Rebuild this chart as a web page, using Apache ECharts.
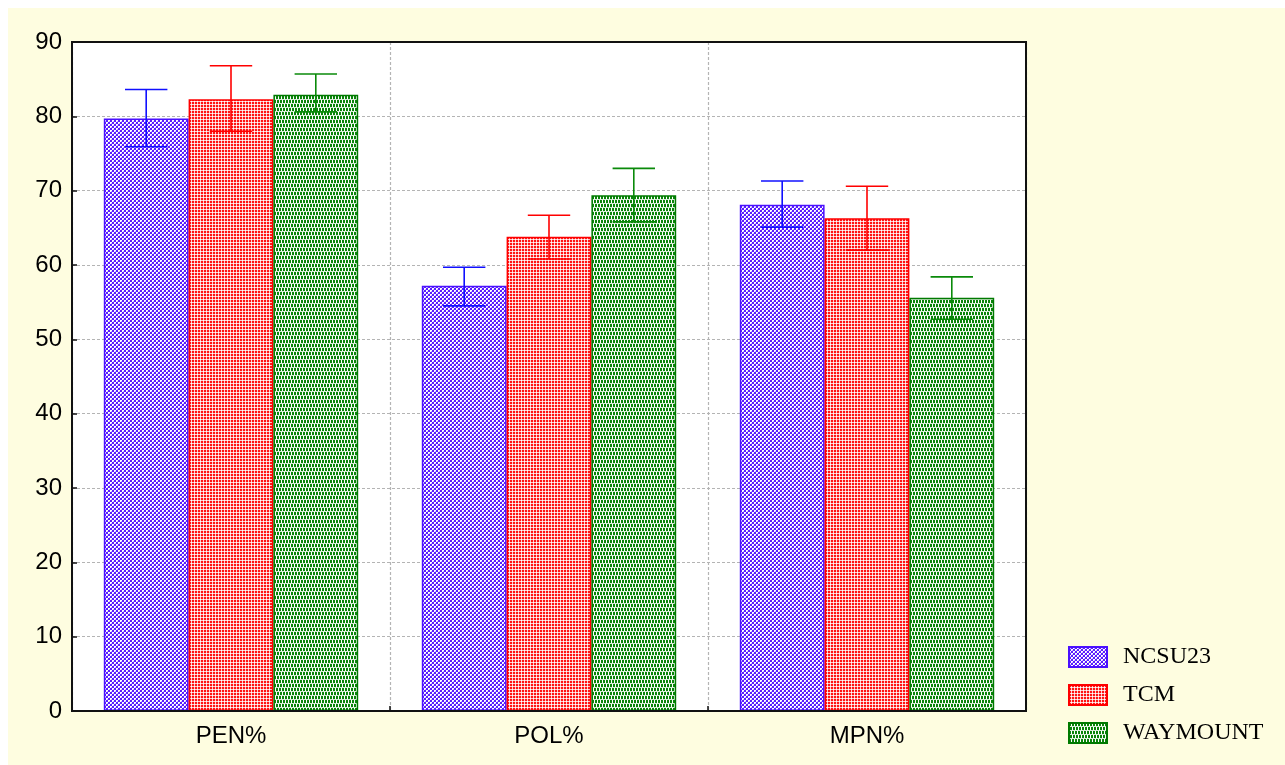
<!DOCTYPE html>
<html>
<head>
<meta charset="utf-8">
<script src="https://cdn.jsdelivr.net/npm/echarts@6/dist/echarts.min.js"></script>
<style>
  html, body { margin: 0; padding: 0; background: #ffffff; }
  #chart { width: 1285px; height: 765px; }
</style>
</head>
<body>
<div id="chart"></div>
<script>
// Category labels and series values
const categories = ['PEN%', 'POL%', 'MPN%'];
const seriesNames = ['NCSU23', 'TCM', 'WAYMOUNT'];
const ncsu23 = [79.7, 57.2, 68.1];
const tcm = [82.3, 63.8, 66.3];
const waymount = [82.9, 69.4, 55.6];
// Error bar bounds [low, high] per category
const ncsu23Err = [[75.9, 83.6], [54.5, 59.7], [65.1, 71.3]];
const tcmErr = [[78.0, 86.8], [60.8, 66.7], [62.0, 70.6]];
const waymountErr = [[80.6, 85.7], [65.8, 73.0], [52.7, 58.4]];
const yTicks = [0, 10, 20, 30, 40, 50, 60, 70, 80, 90];

// Small repeating fill textures for the bars
function makeTile(w, h, base, cells) {
  const c = document.createElement('canvas');
  c.width = w; c.height = h;
  const ctx = c.getContext('2d');
  ctx.fillStyle = base;
  ctx.fillRect(0, 0, w, h);
  cells.forEach(([x, y, col]) => { ctx.fillStyle = col; ctx.fillRect(x, y, 1, 1); });
  return c;
}
const W = '#ffffff';
const LB = '#c2b4ff';
const blueTile = makeTile(4, 4, '#5a1cff', [
  [0, 0, W], [1, 0, W], [0, 1, W], [1, 1, LB],
  [2, 2, W], [3, 2, W], [2, 3, W], [3, 3, LB]
]);
const LR = '#ffcaca';
const redTile = makeTile(3, 3, '#ff1414', [
  [2, 0, LR], [2, 1, LR], [0, 2, LR], [1, 2, LR], [2, 2, W]
]);
// brick texture: 2x3 green bricks, staggered rows, pale mortar
const LG = '#d8ecd8';
const greenCells = [];
for (let y = 0; y < 8; y++) {
  for (let x = 0; x < 6; x++) {
    const rowBand = y < 4 ? 0 : 1;
    const yy = y % 4;
    if (yy === 3) { greenCells.push([x, y, LG]); continue; }
    const gapX = rowBand === 0 ? (x % 3 === 2) : (x % 3 === 0);
    if (gapX) greenCells.push([x, y, W]);
  }
}
const greenTile = makeTile(6, 8, '#0a840a', greenCells);

const fills = [blueTile, redTile, greenTile];
const edgeColors = ['#4a10ff', '#ff0000', '#007a00'];
const errColors = ['#1010ff', '#ff0000', '#0a8a0a'];
const values = [ncsu23, tcm, waymount];
const errs = [ncsu23Err, tcmErr, waymountErr];

const GAP = 0.2; // category gap fraction

const barSeries = seriesNames.map((name, k) => ({
  name: name,
  type: 'bar',
  data: values[k],
  barGap: '0%',
  barCategoryGap: (GAP * 100) + '%',
  itemStyle: {
    color: { image: fills[k], repeat: 'repeat' },
    borderColor: edgeColors[k],
    borderWidth: 1.5
  },
  emphasis: { disabled: true },
  z: 2
}));

const errSeries = seriesNames.map((name, k) => ({
  name: name + ' error',
  type: 'custom',
  data: errs[k].map((e, i) => [i, e[0], e[1]]),
  encode: { x: 0, y: [1, 2] },
  z: 5,
  silent: true,
  renderItem: function (params, api) {
    const i = api.value(0);
    const catW = api.size([1, 0])[0];
    const barW = catW * (1 - GAP) / 3;
    const cx = api.coord([i, 0])[0] + (k - 1) * barW;
    const lo = api.coord([i, api.value(1)])[1];
    const hi = api.coord([i, api.value(2)])[1];
    const half = barW * 0.25;
    const style = { stroke: errColors[k], lineWidth: 1.6 };
    return {
      type: 'group',
      children: [
        { type: 'line', shape: { x1: cx, y1: lo, x2: cx, y2: hi }, style: style },
        { type: 'line', shape: { x1: cx - half, y1: hi, x2: cx + half, y2: hi }, style: style },
        { type: 'line', shape: { x1: cx - half, y1: lo, x2: cx + half, y2: lo }, style: style }
      ]
    };
  }
}));

const GRID = { left: 72, right: 259, top: 42, bottom: 54 };

const chart = echarts.init(document.getElementById('chart'), null, { renderer: 'canvas' });
chart.setOption({
  backgroundColor: '#ffffff',
  animation: false,
  graphic: [{
    type: 'rect',
    shape: { x: 8, y: 8, width: 1277, height: 757 },
    style: { fill: '#fefde0' },
    z: -10,
    silent: true
  }, {
    // solid plot frame drawn above the dashed grid lines
    type: 'rect',
    shape: { x: GRID.left, y: GRID.top, width: 1285 - GRID.left - GRID.right, height: 765 - GRID.top - GRID.bottom },
    style: { fill: 'transparent', stroke: '#111111', lineWidth: 2 },
    z: 10,
    silent: true
  }],
  grid: {
    left: GRID.left, right: GRID.right, top: GRID.top, bottom: GRID.bottom,
    show: true,
    backgroundColor: '#ffffff',
    borderColor: '#111111',
    borderWidth: 2
  },
  legend: {
    data: seriesNames,
    orient: 'vertical',
    left: 1068, top: 645,
    padding: 0,
    itemWidth: 38, itemHeight: 20, itemGap: 14,
    icon: 'rect',
    selectedMode: false,
    textStyle: {
      fontFamily: '"Liberation Serif", "Times New Roman", serif',
      fontSize: 24,
      color: '#000000',
      padding: [0, 0, 0, 11]
    }
  },
  xAxis: {
    type: 'category',
    data: categories,
    axisLine: { show: true, lineStyle: { color: '#111111', width: 2 } },
    axisTick: { show: true, inside: true, length: 5, lineStyle: { color: '#111111', width: 1.5 } },
    axisLabel: {
      fontFamily: '"Liberation Sans", Arial, sans-serif',
      fontSize: 24, color: '#000000', margin: 13
    },
    splitLine: { show: true, lineStyle: { color: '#b4b4b4', type: [3, 2], width: 1.2 } }
  },
  yAxis: {
    type: 'value',
    min: yTicks[0],
    max: yTicks[yTicks.length - 1],
    interval: 10,
    axisLine: { show: true, lineStyle: { color: '#111111', width: 2 } },
    axisTick: { show: true, inside: true, length: 5, lineStyle: { color: '#111111', width: 1.5 } },
    axisLabel: {
      fontFamily: '"Liberation Sans", Arial, sans-serif',
      fontSize: 24, color: '#000000', margin: 10
    },
    splitLine: { show: true, lineStyle: { color: '#b4b4b4', type: [3, 2], width: 1.2 } }
  },
  series: barSeries.concat(errSeries)
});
</script>
</body>
</html>
